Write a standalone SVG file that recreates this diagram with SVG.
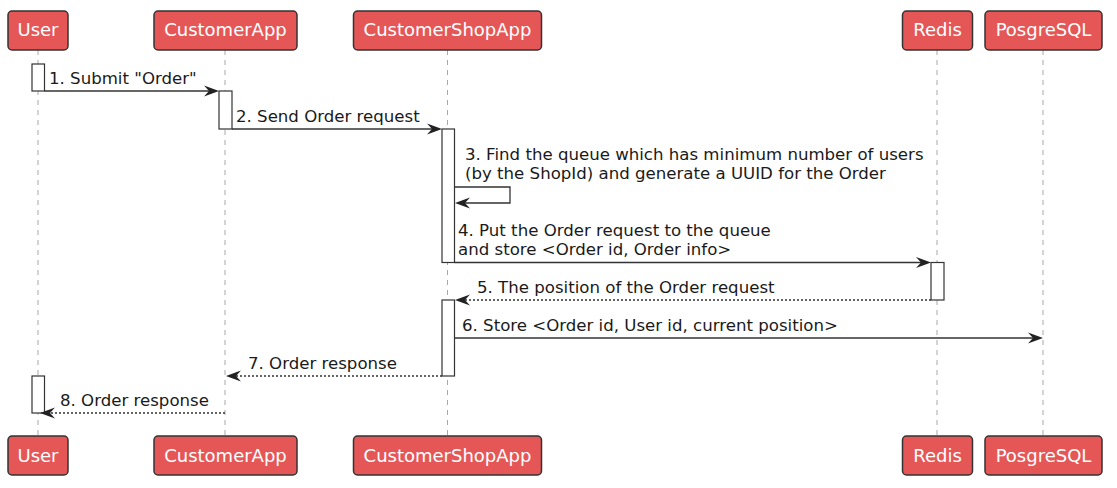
<svg xmlns="http://www.w3.org/2000/svg" width="1117" height="488" viewBox="0 0 1117 488">
<style>
.p rect{fill:#E55757;stroke:#333333;stroke-width:1.5}
.p text{fill:#FFFFFF;font-family:"DejaVu Sans",sans-serif;font-size:18px;text-anchor:middle}
.life{stroke:#A8A8A8;stroke-width:1;stroke-dasharray:5,5;fill:none}
.act{fill:#FFFFFF;stroke:#333333;stroke-width:1.2}
.msg{stroke:#333333;stroke-width:1.3;fill:none}
.ret{stroke:#333333;stroke-width:1.3;fill:none;stroke-dasharray:2,2}
.lbl{fill:#1a1a1a;font-family:"DejaVu Sans",sans-serif;font-size:16.6px}
.ah{fill:#222222}
</style>
<rect width="1117" height="488" fill="#FFFFFF"/>
<g id="lifelines">
<line class="life" x1="38" y1="50" x2="38" y2="436"/>
<line class="life" x1="225" y1="50" x2="225" y2="436"/>
<line class="life" x1="447.5" y1="50" x2="447.5" y2="436"/>
<line class="life" x1="937" y1="50" x2="937" y2="436"/>
<line class="life" x1="1043" y1="50" x2="1043" y2="436"/>
</g>
<g id="User" class="p">
<rect x="8" y="11" width="60" height="39" rx="4"/>
<text x="38" y="36">User</text>
<rect x="8" y="436" width="60" height="39" rx="4"/>
<text x="38" y="462">User</text>
</g>
<g id="CustomerApp" class="p">
<rect x="154" y="11" width="143" height="39" rx="4"/>
<text x="225.5" y="36">CustomerApp</text>
<rect x="154" y="436" width="143" height="39" rx="4"/>
<text x="225.5" y="462">CustomerApp</text>
</g>
<g id="CustomerShopApp" class="p">
<rect x="353.5" y="11" width="188" height="39" rx="4"/>
<text x="447.5" y="36">CustomerShopApp</text>
<rect x="353.5" y="436" width="188" height="39" rx="4"/>
<text x="447.5" y="462">CustomerShopApp</text>
</g>
<g id="Redis" class="p">
<rect x="902.5" y="11" width="70" height="39" rx="4"/>
<text x="937.5" y="36">Redis</text>
<rect x="902.5" y="436" width="70" height="39" rx="4"/>
<text x="937.5" y="462">Redis</text>
</g>
<g id="PosgreSQL" class="p">
<rect x="985" y="11" width="117" height="39" rx="4"/>
<text x="1043.5" y="36">PosgreSQL</text>
<rect x="985" y="436" width="117" height="39" rx="4"/>
<text x="1043.5" y="462">PosgreSQL</text>
</g>
<g id="activations">
<rect class="act" x="32" y="64" width="12.5" height="27"/>
<rect class="act" x="219" y="91" width="13" height="38"/>
<rect class="act" x="442" y="129" width="12.5" height="133.5"/>
<rect class="act" x="931" y="262.5" width="13" height="37.5"/>
<rect class="act" x="442" y="300" width="12.5" height="76"/>
<rect class="act" x="32" y="376" width="12.5" height="37"/>
</g>
<g id="connectors">
<line class="msg" x1="44.5" y1="91" x2="212" y2="91"/>
<polygon class="ah" points="219,91 204,85.5 209,91 204,96.5"/>
<text class="lbl" x="49" y="84">1. Submit "Order"</text>

<line class="msg" x1="232" y1="129" x2="435" y2="129"/>
<polygon class="ah" points="442,129 427,123.5 432,129 427,134.5"/>
<text class="lbl" x="236" y="122">2. Send Order request</text>

<polyline class="msg" points="454.5,187 510,187 510,203 462,203"/>
<polygon class="ah" points="455,203 470,197.5 465,203 470,208.5"/>
<text class="lbl" x="465" y="160">3. Find the queue which has minimum number of users</text>
<text class="lbl" x="465" y="179">(by the ShopId) and generate a UUID for the Order</text>

<line class="msg" x1="454.5" y1="262.5" x2="924" y2="262.5"/>
<polygon class="ah" points="931,262.5 916,257 921,262.5 916,268"/>
<text class="lbl" x="458" y="236">4. Put the Order request to the queue</text>
<text class="lbl" x="458" y="255">and store &lt;Order id, Order info&gt;</text>

<line class="ret" x1="931" y1="300" x2="462" y2="300"/>
<polygon class="ah" points="455,300 470,294.5 465,300 470,305.5"/>
<text class="lbl" x="477" y="292.5">5. The position of the Order request</text>

<line class="msg" x1="454.5" y1="338" x2="1036" y2="338"/>
<polygon class="ah" points="1043,338 1028,332.5 1033,338 1028,343.5"/>
<text class="lbl" x="462" y="331">6. Store &lt;Order id, User id, current position&gt;</text>

<line class="ret" x1="442" y1="376" x2="233" y2="376"/>
<polygon class="ah" points="226,376 241,370.5 236,376 241,381.5"/>
<text class="lbl" x="248" y="368.5">7. Order response</text>

<line class="ret" x1="225" y1="413" x2="47" y2="413"/>
<polygon class="ah" points="40,413 55,407.5 50,413 55,418.5"/>
<text class="lbl" x="60" y="406">8. Order response</text>
</g>
</svg>
